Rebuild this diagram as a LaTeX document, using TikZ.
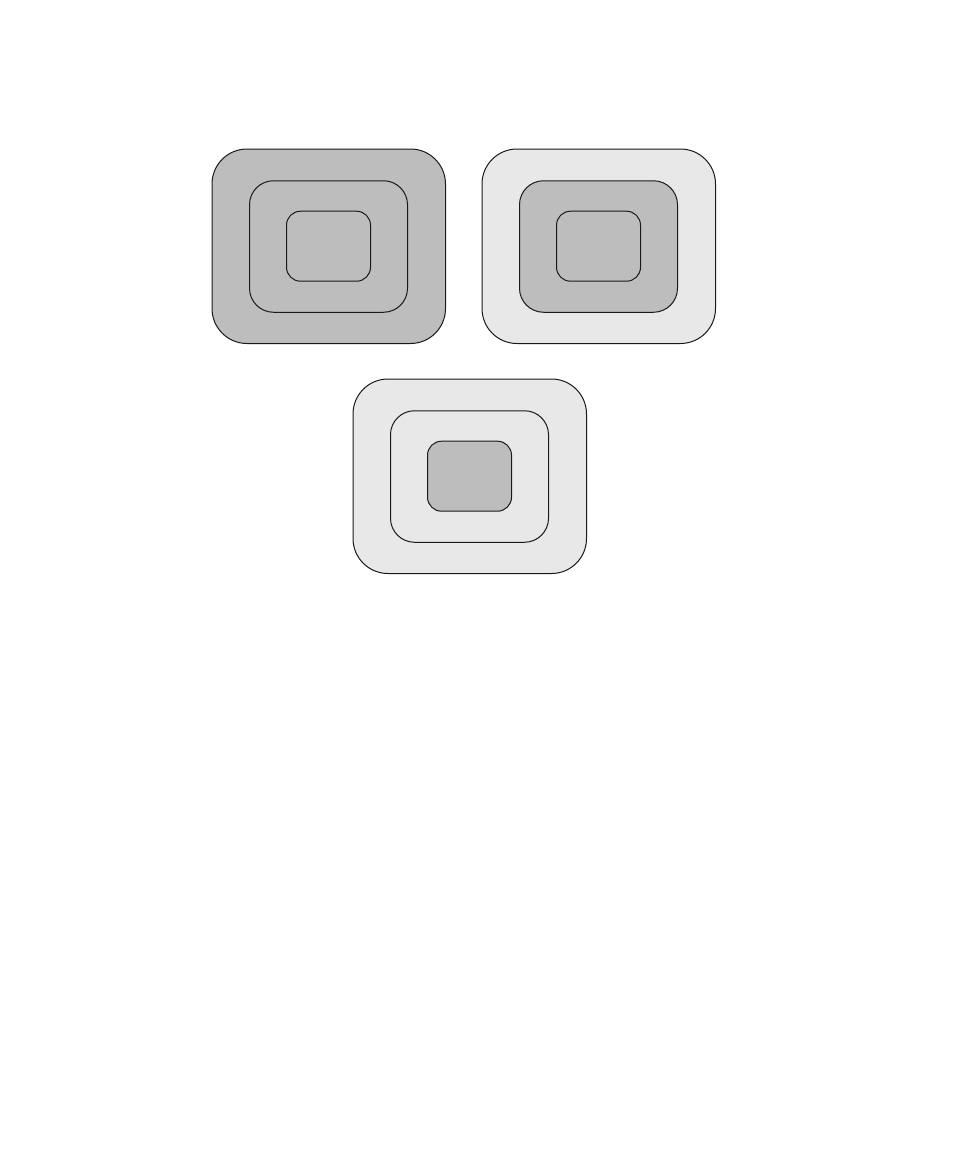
\documentclass[tikz,border=0pt]{standalone}
\usetikzlibrary{positioning}
\definecolor{darkfill}{HTML}{BDBDBD}
\definecolor{lightfill}{HTML}{E8E8E8}
\begin{document}
\begin{tikzpicture}[x=1pt,y=-1pt,
  box/.style={draw=black!90, line width=1pt, rectangle, inner sep=0pt, outer sep=0pt},
  outerbox/.style={box, rounded corners=35pt, minimum width=233.5pt, minimum height=194.5pt},
  midbox/.style={box, rounded corners=24pt, minimum width=158pt, minimum height=131.5pt},
  innerbox/.style={box, rounded corners=14pt, minimum width=84pt, minimum height=70pt},
  dk/.style={fill=darkfill}, lt/.style={fill=lightfill}]
\useasboundingbox (0,0) rectangle (959,1159);
% group 1
\node[outerbox,dk] (o1) at (328.75,246.25) {};
\node[midbox,dk] (m1) at (328.5,246.5) {};
\node[innerbox,dk] (i1) at (328.5,246.2) {};
% group 2
\node[outerbox,lt] (o2) at (598.75,246.25) {};
\node[midbox,dk] (m2) at (598.5,246.5) {};
\node[innerbox,dk] (i2) at (598.5,246.2) {};
% group 3
\node[outerbox,lt] (o3) at (469.75,476.25) {};
\node[midbox,lt] (m3) at (469.5,476.5) {};
\node[innerbox,dk] (i3) at (469.5,476.2) {};
\end{tikzpicture}
\end{document}
